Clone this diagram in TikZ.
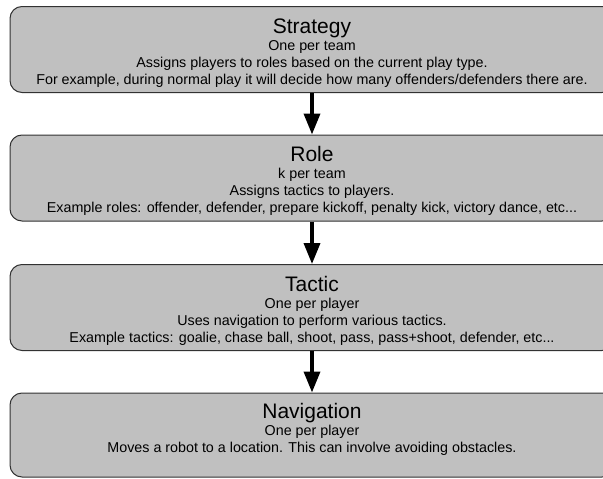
\documentclass[tikz,border=0pt]{standalone}
\usepackage{fontspec}
\setmainfont{Liberation Sans}
\usetikzlibrary{arrows.meta}
\definecolor{boxfill}{RGB}{192,192,192}
\definecolor{boxline}{RGB}{50,50,50}
\tikzset{
  layerbox/.style={draw=boxline, line width=1pt, fill=boxfill, rounded corners=12pt,
    minimum width=604pt, minimum height=86pt, inner sep=0pt, align=center,
    font=\fontsize{14.3}{17}\selectfont},
  flowarrow/.style={line width=3.6pt, -{Triangle[width=16pt,length=21pt]}}
}
\newcommand{\boxtitle}[1]{{\fontsize{21}{21}\selectfont\rule{0pt}{21pt}#1}\\[0pt]}
\newcommand{\lastline}[1]{#1\rule[-3pt]{0pt}{0pt}}
\begin{document}
\begin{tikzpicture}[x=1pt,y=-1pt]
\useasboundingbox (0,0) rectangle (603,479);
\clip (0,0) rectangle (603,479);
\node[layerbox] (strategy) at (312,49.5)
  {\boxtitle{Strategy}One per team\\Assigns players to roles based on the current play type.\\\lastline{For example, during normal play it will decide how many offenders/defenders there are.}};
\node[layerbox] (role) at (312,178)
  {\boxtitle{Role}k per team\\Assigns tactics to players.\\\lastline{Example roles: offender, defender, prepare kickoff, penalty kick, victory dance, etc...}};
\node[layerbox] (tactic) at (312,307.5)
  {\boxtitle{Tactic}One per player\\Uses navigation to perform various tactics.\\\lastline{Example tactics: goalie, chase ball, shoot, pass, pass+shoot, defender, etc...}};
\node[layerbox, minimum height=84pt] (navigation) at (312,435)
  {\boxtitle{Navigation}One per player\\Moves a robot to a location. This can involve avoiding obstacles.\\\lastline{}};
\draw[flowarrow] (strategy) -- (role);
\draw[flowarrow] (role) -- (tactic);
\draw[flowarrow] (tactic) -- (navigation);
\end{tikzpicture}
\end{document}
